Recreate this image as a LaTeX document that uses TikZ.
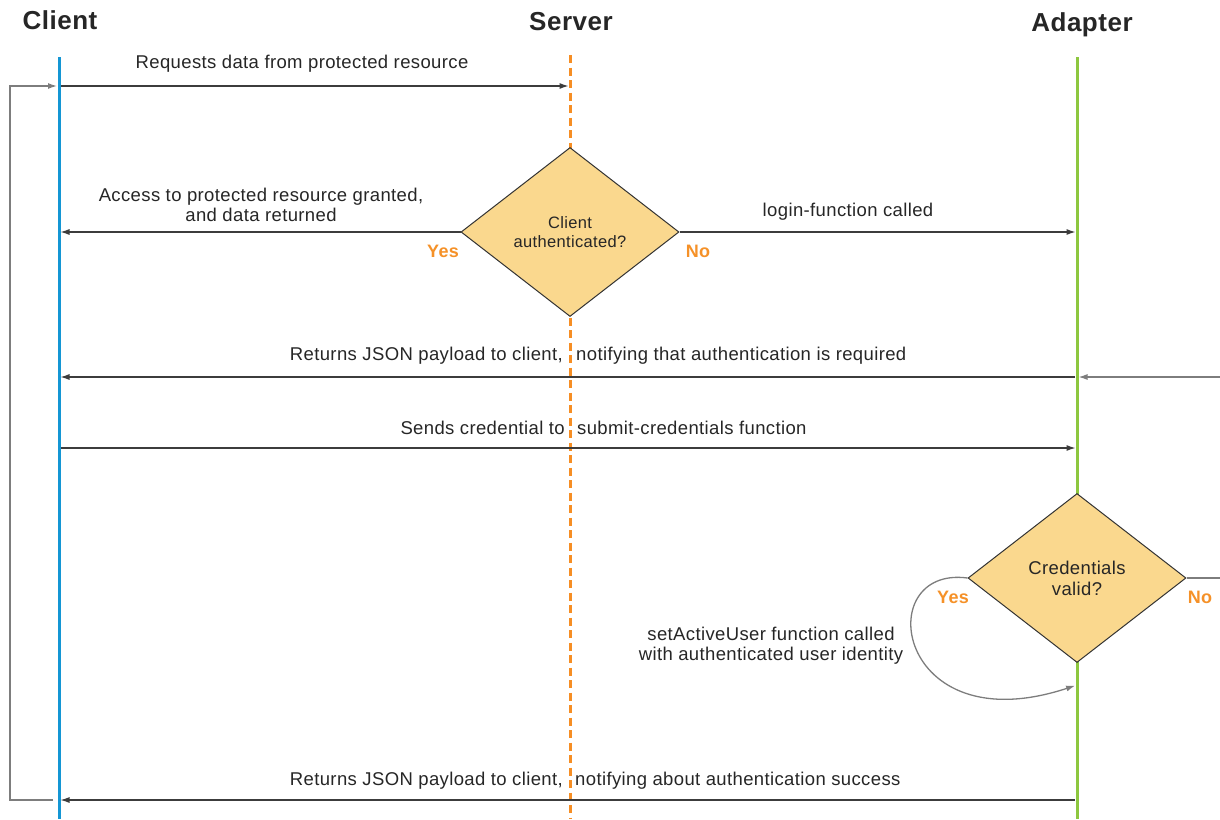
\documentclass[tikz,border=0pt]{standalone}
\usepackage{fontspec}
\setmainfont{Liberation Sans}[LetterSpace=2]
\usetikzlibrary{arrows.meta, shapes.geometric, positioning}

\definecolor{clientblue}{RGB}{20,150,212}
\definecolor{serverorange}{RGB}{246,142,36}
\definecolor{adaptergreen}{RGB}{141,199,63}
\definecolor{decisionfill}{RGB}{250,216,142}
\definecolor{msggray}{RGB}{60,60,60}
\definecolor{loopgray}{RGB}{125,125,125}
\definecolor{answerorange}{RGB}{245,145,40}

\begin{document}
\begin{tikzpicture}[x=1pt, y=-1pt, >=Latex,
    heading/.style={font=\bfseries\fontsize{26}{29}\selectfont, text=black!85},
    lifeline/.style={line width=3pt},
    msg/.style={draw=msggray, line width=1.1pt, -{Latex[length=9pt,width=6pt]}, shorten >=1.5pt},
    back/.style={draw=loopgray, line width=1.3pt},
    msglabel/.style={font=\fontsize{18.5}{20}\selectfont, align=center, text=black!85, inner sep=0pt},
    decision/.style={diamond, draw=black!80, fill=decisionfill, line width=1pt,
      minimum width=218pt, minimum height=169pt, inner sep=0pt, align=center, text=black!85},
    answer/.style={font=\bfseries\fontsize{18}{20}\selectfont, text=answerorange, inner sep=0pt}]
  \useasboundingbox (0,0) rectangle (1220,819);

  % Lifeline headings
  \node[heading] (client) at (60,20) {Client};
  \node[heading] (server) at (571,22) {Server};
  \node[heading] (adapter) at (1082,25) {Adapter};

  % Lifelines
  \draw[lifeline, clientblue] (59,57) coordinate (client top) -- (59,819) coordinate (client end);
  \draw[lifeline, serverorange, dash pattern=on 8pt off 4.5pt] (570,55) coordinate (server top) -- (570,819) coordinate (server end);
  \draw[lifeline, adaptergreen] (1077,57) coordinate (adapter top) -- (1077,819) coordinate (adapter end);

  % Message rows on each lifeline
  \foreach \row/\y in {req/86, grant/232, json/377, cred/448, active/685, done/800} {
    \coordinate (client-\row) at (59,\y);
    \coordinate (server-\row) at (570,\y);
    \coordinate (adapter-\row) at (1077,\y);
  }
  \coordinate (loop-bottom) at (10,800);
  \coordinate (loop-top) at (10,86);
  \coordinate (outside-json) at (1220,377);
  \coordinate (outside-no) at (1220,578);

  % Decisions
  \node[decision, font=\fontsize{16.5}{19}\selectfont] (auth) at (570,232) {Client\\authenticated?};
  \node[decision, font=\fontsize{18.5}{21}\selectfont] (valid) at (1077,578) {Credentials\\valid?};

  % Messages
  \draw[msg] ([xshift=2pt]client-req) -- (server-req);
  \draw[msg] (auth.west) -- (client-grant);
  \draw[msg] (auth.east) -- (adapter-grant);
  \draw[msg] ([xshift=-2pt]adapter-json) -- (client-json);
  \draw[back, -{Latex[length=9pt,width=6pt]}, shorten >=1.5pt] (outside-json) -- (adapter-json);
  \draw[msg] ([xshift=2pt]client-cred) -- (adapter-cred);
  \draw[msg] ([xshift=-2pt]adapter-done) -- (client-done);
  \draw[back] (valid.east) -- (outside-no);
  \draw[back, -{Latex[length=9pt,width=6pt]}, shorten >=2pt]
    (valid.west) .. controls (870,565) and (895,745) .. (adapter-active);

  % Loop back to the first request
  \draw[back, -{Latex[length=9pt,width=6pt]}, shorten >=2pt]
    ([xshift=-6pt]client-done) -- (loop-bottom) -- (loop-top) -- (client-req);

  % Labels
  \node[msglabel] (req label) at (302,64) {Requests data from protected resource};
  \node[msglabel] (grant label) at (261,205) {Access to protected resource granted,\\and data returned};
  \node[msglabel] (login label) at (848,212) {login-function called};
  \node[msglabel, anchor=east] (json label a) at (563,356) {Returns JSON payload to client,};
  \node[msglabel, anchor=west] (json label b) at (576,356) {notifying that authentication is required};
  \node[msglabel, anchor=east] (cred label a) at (565,428) {Sends credential to};
  \node[msglabel, anchor=west] (cred label b) at (577,428) {submit-credentials function};
  \node[msglabel] (active label) at (771,646) {setActiveUser function called\\with authenticated user identity};
  \node[msglabel, anchor=east] (done label a) at (563,781) {Returns JSON payload to client,};
  \node[msglabel, anchor=west] (done label b) at (575,781) {notifying about authentication success};

  % Yes / No answers
  \node[answer] (auth yes) at (443,251) {Yes};
  \node[answer] (auth no) at (698,251) {No};
  \node[answer] (valid yes) at (953,597) {Yes};
  \node[answer] (valid no) at (1200,597) {No};
\end{tikzpicture}
\end{document}
